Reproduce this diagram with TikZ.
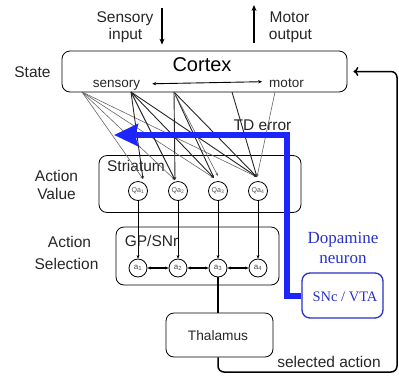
\documentclass[tikz,border=0pt]{standalone}
\usepackage{fontspec}
\setmainfont{Liberation Sans}
\newfontfamily\dopafont{Liberation Serif}
\usetikzlibrary{positioning,arrows.meta}
\definecolor{tdblue}{RGB}{28,38,250}
\definecolor{dablue}{RGB}{40,48,200}
\newcommand\txtsize[1]{\fontsize{#1}{#1}\selectfont}
\tikzset{
  region/.style={draw,rounded corners=8pt,line width=0.8pt},
  qunit/.style={circle,draw,line width=0.8pt,inner sep=0pt,minimum size=19pt,text=black!70,font=\txtsize{7}},
  aunit/.style={circle,draw,line width=0.8pt,inner sep=0pt,minimum size=18pt,text=black!70,font=\txtsize{8}},
  lbl/.style={inner sep=0pt,anchor=base,text=black!85,font=\txtsize{15.5}},
  dalbl/.style={inner sep=0pt,anchor=base,text=dablue,font=\dopafont\txtsize{17}},
  thinfan/.style={draw=black!60,line width=0.6pt,-{Stealth[length=3pt,width=2.6pt]}},
  thickfan/.style={draw=black!85,line width=0.9pt,-{Stealth[length=3pt,width=2.6pt]}},
  conn/.style={line width=0.9pt,-{Stealth[length=3.5pt,width=3pt]}},
  io/.style={line width=1.5pt,-{Stealth[length=6pt,width=5pt]}},
  tdpath/.style={draw=tdblue,line width=6pt,-{Stealth[length=24pt,width=22pt,inset=3pt]}}
}
\begin{document}
\begin{tikzpicture}[x=1pt,y=-1pt,node distance=40pt,on grid]
\useasboundingbox (0,0) rectangle (399,376);
% boxes
\node[region,minimum width=285pt,minimum height=41pt] (cortex) at (204.5,71.5) {};
\node[region,minimum width=202pt,minimum height=57pt] (striatum) at (200,184) {};
\node[region,minimum width=163pt,minimum height=58pt] (gpsnr) at (197.5,256) {};
\node[region,minimum width=107pt,minimum height=44pt] (thalamus) at (219.5,335) {};
\node[region,draw=dablue,line width=1.3pt,minimum width=81pt,minimum height=45pt] (sncvta) at (342.5,295.5) {};
% texts
\node[inner sep=0pt,font=\txtsize{20}] (cortexlbl) at (202,65) {Cortex};
\node[lbl,font=\txtsize{13.5}] (senslbl) at (116.5,87) {sensory};
\node[lbl,font=\txtsize{13.5}] (motorlbl) at (286.5,87) {motor};
\node[lbl] (sensin1) at (125,22) {Sensory}; \node[lbl] (sensin2) at (125.5,39) {input};
\node[lbl] (motout1) at (289.5,22) {Motor}; \node[lbl] (motout2) at (290.5,39) {output};
\node[lbl] (statelbl) at (32.5,77) {State};
\node[lbl] (value1) at (56.5,181) {Action}; \node[lbl] (value2) at (56.5,199) {Value};
\node[lbl] (select1) at (69.5,247) {Action}; \node[lbl] (select2) at (66.5,269) {Selection};
\node[lbl] (striatumlbl) at (136,171) {Striatum};
\node[lbl] (gpsnrlbl) at (151.5,246) {GP/SNr};
\node[lbl,font=\txtsize{13.7}] (thalamuslbl) at (218,340) {Thalamus};
\node[lbl] (tdlbl) at (262.5,130) {TD error};
\node[lbl] (sellbl) at (329,367) {selected action};
\node[dalbl] (dopa1) at (343,243) {Dopamine}; \node[dalbl] (dopa2) at (343,263) {neuron};
\node[dalbl,font=\dopafont\txtsize{14.5}] (sncvtalbl) at (345,301) {SNc / VTA};
% units
\node[qunit] (qa1) at (138,191) {Qa\textsubscript{1}};
\node[qunit,right=of qa1] (qa2) {Qa\textsubscript{2}};
\node[qunit,right=of qa2] (qa3) {Qa\textsubscript{3}};
\node[qunit,right=of qa3] (qa4) {Qa\textsubscript{4}};
\node[aunit] (a1) at (138,268) {a\textsubscript{1}};
\node[aunit,right=of a1] (a2) {a\textsubscript{2}};
\node[aunit,right=of a2] (a3) {a\textsubscript{3}};
\node[aunit,right=of a3] (a4) {a\textsubscript{4}};
% cortical projections
\coordinate (c1) at (82,92); \coordinate (c2) at (131,92); \coordinate (c3) at (174,92);
\coordinate (c4) at (232,92); \coordinate (c5) at (275,92);
\coordinate (t1) at (143,179); \coordinate (t2) at (175,180); \coordinate (t3) at (214,178);
\coordinate (t3r) at (218,176); \coordinate (t4) at (257,177);
\foreach \t in {1,...,4} \draw[thinfan] (c1) -- (t\t);
\foreach \t in {1,...,4} \draw[thickfan] (c2) -- (t\t);
\foreach \t in {2,3,4} \draw[thickfan] (c3) -- (t\t);
\draw[thinfan] (c3) -- (t3r);
\draw[thickfan] (c4) -- (t4);
\draw[thinfan] (c5) -- (t4);
% in and out
\coordinate (sensin) at (162,8); \coordinate (motout) at (254,5);
\draw[io] (sensin) -- (sensin |- cortex.north) [shorten >=6pt];
\draw[io,shorten <=8pt] (motout |- cortex.north) -- (motout);
\draw[line width=0.9pt,{Stealth[length=4pt,width=3.5pt]}-{Stealth[length=4pt,width=3.5pt]}] ([xshift=12pt,yshift=1pt]senslbl.east) -- ([xshift=-7pt,yshift=1pt]motorlbl.west);
% basal ganglia loop
\foreach \i in {1,...,4} \draw[conn] (qa\i) -- (a\i);
\foreach \i/\j in {1/2,2/3,3/4} \draw[line width=1.1pt,{Stealth[length=3.5pt,width=3pt]}-{Stealth[length=3.5pt,width=3pt]}] (a\i) -- (a\j);
\draw[line width=1.8pt] (a3) -- (a3 |- thalamus.north);
\draw[line width=1.5pt,rounded corners=6pt,shorten >=6pt,-{To[length=5pt,width=9pt]}] (a3 |- thalamus.south) |- (397,372) |- (cortex.east);
% TD error
\coordinate (tdtip) at (114,135);
\draw[tdpath] (sncvta.west) -| (287,135) -- (tdtip);
\end{tikzpicture}
\end{document}
